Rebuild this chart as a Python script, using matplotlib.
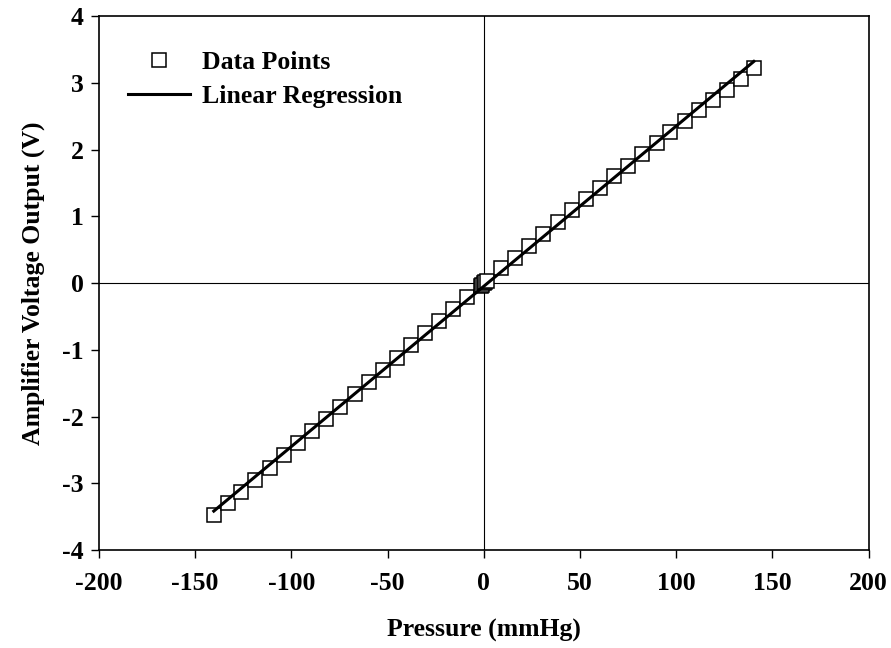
import numpy as np
import matplotlib
matplotlib.use("Agg")
import matplotlib.pyplot as plt

pressure = [-140.3, -133.0, -126.2, -119.0, -111.2, -103.9, -96.6, -89.4, -82.1, -74.8,
            -67.0, -59.7, -52.5, -45.2, -37.9, -30.6, -23.4, -16.1, -8.8,
            -1.5, -0.8, 0.0, 0.8, 1.5,
            8.8, 16.1, 23.4, 30.6, 38.4, 45.7, 53.0, 60.3, 67.5, 74.8,
            82.1, 89.9, 96.6, 104.4, 111.7, 119.0, 126.2, 133.5, 140.3]
voltage = [-3.47, -3.30, -3.13, -2.95, -2.77, -2.58, -2.40, -2.22, -2.04, -1.85,
           -1.66, -1.48, -1.30, -1.12, -0.93, -0.75, -0.56, -0.38, -0.20,
           -0.04, -0.02, 0.0, 0.02, 0.04,
           0.22, 0.38, 0.56, 0.74, 0.92, 1.09, 1.26, 1.43, 1.60, 1.76,
           1.93, 2.10, 2.27, 2.43, 2.59, 2.75, 2.90, 3.06, 3.22]

xticks = [-200, -150, -100, -50, 0, 50, 100, 150, 200]
yticks = [-4, -3, -2, -1, 0, 1, 2, 3, 4]

plt.rcParams['font.family'] = ['Liberation Serif', 'DejaVu Serif']
plt.rcParams['font.weight'] = 'bold'
FS = 18.5

fig = plt.figure(figsize=(8.91, 6.48), dpi=100)
ax = fig.add_axes([0.111, 0.151, 0.864, 0.824])

x = np.array(pressure)
y = np.array(voltage)
slope, intercept = np.polyfit(x, y, 1)
xl = np.array([x.min(), x.max()])

ax.axhline(0, color='black', lw=0.8, zorder=1)
ax.axvline(0, color='black', lw=0.8, zorder=1)

ax.plot(x, y, linestyle='none', marker='s', markersize=9.5, markerfacecolor='white',
        markeredgecolor='black', markeredgewidth=1.1, label='Data Points', zorder=2)
ax.plot(xl, slope * xl + intercept, color='black', lw=2.2, label='Linear Regression', zorder=3)

ax.set_xlim(-200, 200)
ax.set_ylim(-4, 4)
ax.set_xticks(xticks)
ax.set_yticks(yticks)
ax.set_xticklabels([str(v) for v in xticks], fontsize=FS, fontweight='bold')
ax.set_yticklabels([str(v) for v in yticks], fontsize=FS, fontweight='bold')
ax.tick_params(axis='x', direction='out', length=6, width=1, top=False, pad=10)
ax.tick_params(axis='y', direction='out', length=6, width=1, right=False, pad=5)
for s in ax.spines.values():
    s.set_linewidth(1.2)

ax.set_xlabel('Pressure (mmHg)', fontsize=FS, fontweight='bold', labelpad=17)
ax.set_ylabel('Amplifier Voltage Output (V)', fontsize=FS, fontweight='bold', labelpad=12)

leg = ax.legend(loc='upper left', bbox_to_anchor=(0.008, 0.978), frameon=False,
                prop={'size': FS, 'weight': 'bold'}, handlelength=2.4,
                handletextpad=0.47, labelspacing=0.42, borderpad=0.4)

fig.savefig('out.png', dpi=100)
